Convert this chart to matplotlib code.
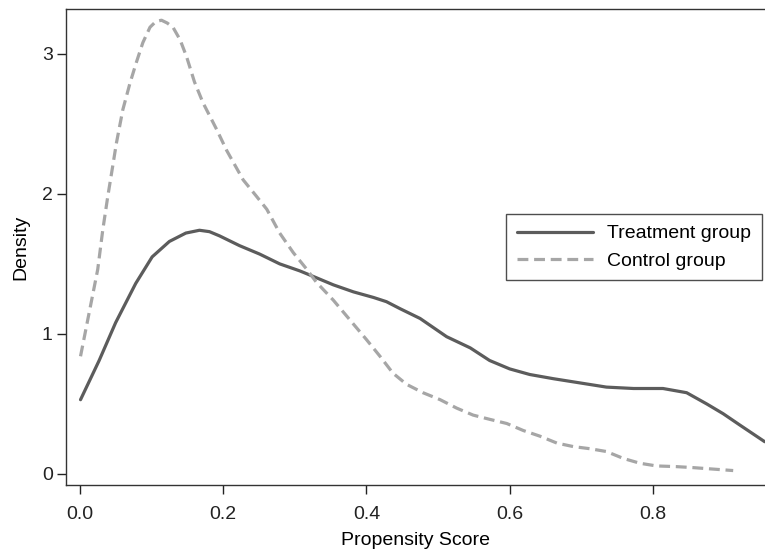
import numpy as np
import matplotlib.pyplot as plt

plt.rcParams['font.family'] = ['Liberation Sans', 'DejaVu Sans']

# Kernel density curves
treat_x = [0.001, 0.027, 0.050, 0.078, 0.101, 0.125, 0.148, 0.167, 0.181, 0.195,
           0.223, 0.251, 0.279, 0.307, 0.326, 0.354, 0.382, 0.410, 0.428, 0.447,
           0.475, 0.512, 0.545, 0.572, 0.600, 0.628, 0.661, 0.698, 0.735, 0.773,
           0.814, 0.847, 0.875, 0.898, 0.921, 0.956]
treat_y = [0.53, 0.81, 1.08, 1.36, 1.55, 1.66, 1.72, 1.74, 1.73, 1.70,
           1.63, 1.57, 1.50, 1.45, 1.41, 1.35, 1.30, 1.26, 1.23, 1.18,
           1.11, 0.98, 0.90, 0.81, 0.75, 0.71, 0.68, 0.65, 0.62, 0.61,
           0.61, 0.58, 0.50, 0.43, 0.35, 0.23]

ctrl_x = [0.001, 0.013, 0.025, 0.032, 0.039, 0.046, 0.051, 0.060, 0.070, 0.079,
          0.088, 0.098, 0.106, 0.114, 0.122, 0.130, 0.140, 0.149, 0.160, 0.172,
          0.191, 0.205, 0.228, 0.247, 0.261, 0.279, 0.298, 0.317, 0.330, 0.354,
          0.377, 0.400, 0.419, 0.437, 0.456, 0.479, 0.503, 0.526, 0.549, 0.572,
          0.596, 0.619, 0.642, 0.666, 0.689, 0.712, 0.735, 0.759, 0.782, 0.805,
          0.833, 0.856, 0.880, 0.912]
ctrl_y = [0.84, 1.15, 1.46, 1.74, 1.98, 2.20, 2.36, 2.60, 2.79, 2.94,
          3.08, 3.19, 3.23, 3.24, 3.22, 3.19, 3.10, 2.98, 2.80, 2.65,
          2.46, 2.31, 2.10, 1.98, 1.89, 1.72, 1.58, 1.46, 1.37, 1.24,
          1.10, 0.96, 0.84, 0.72, 0.64, 0.58, 0.53, 0.47, 0.42, 0.39,
          0.36, 0.31, 0.27, 0.22, 0.195, 0.18, 0.16, 0.11, 0.076, 0.057,
          0.052, 0.045, 0.036, 0.024]

x_ticks = [0.0, 0.2, 0.4, 0.6, 0.8]
x_labels = ['0.0', '0.2', '0.4', '0.6', '0.8']
y_ticks = [0, 1, 2, 3]

fig = plt.figure(figsize=(7.65, 5.53), dpi=100)
ax = fig.add_axes([0.0869, 0.123, 0.9131, 0.8607])

ax.plot(treat_x, treat_y, color='#5c5c5c', lw=2.3, label='Treatment group',
        solid_capstyle='round', solid_joinstyle='round')
ax.plot(ctrl_x, ctrl_y, color='#a6a6a6', lw=2.3, ls=(0, (3.4, 1.8)),
        label='Control group')

ax.set_xlim(-0.0186, 0.9564)
ax.set_ylim(-0.079, 3.32)
ax.set_xticks(x_ticks)
ax.set_xticklabels(x_labels)
ax.set_yticks(y_ticks)
ax.tick_params(direction='out', length=6.2, width=1, labelsize=14,
               colors='#222222', pad=3.6)
ax.tick_params(axis='x', pad=8.6)

for s in ax.spines.values():
    s.set_color('#333333')
    s.set_linewidth(1.0)
ax.spines['right'].set_visible(False)

ax.set_xlabel('Propensity Score', fontsize=14, labelpad=6.5)
ax.set_ylabel('Density', fontsize=14, labelpad=9)

leg = ax.legend(loc='upper left', bbox_to_anchor=(506 / 765, 1 - 214 / 553),
                bbox_transform=fig.transFigure, borderaxespad=0, fontsize=14,
                frameon=True, fancybox=False, handlelength=3.9, borderpad=0.55,
                labelspacing=0.5, handletextpad=0.75)
leg.get_frame().set_edgecolor('#222222')
leg.get_frame().set_linewidth(1.0)

fig.savefig('out.png', dpi=100)
